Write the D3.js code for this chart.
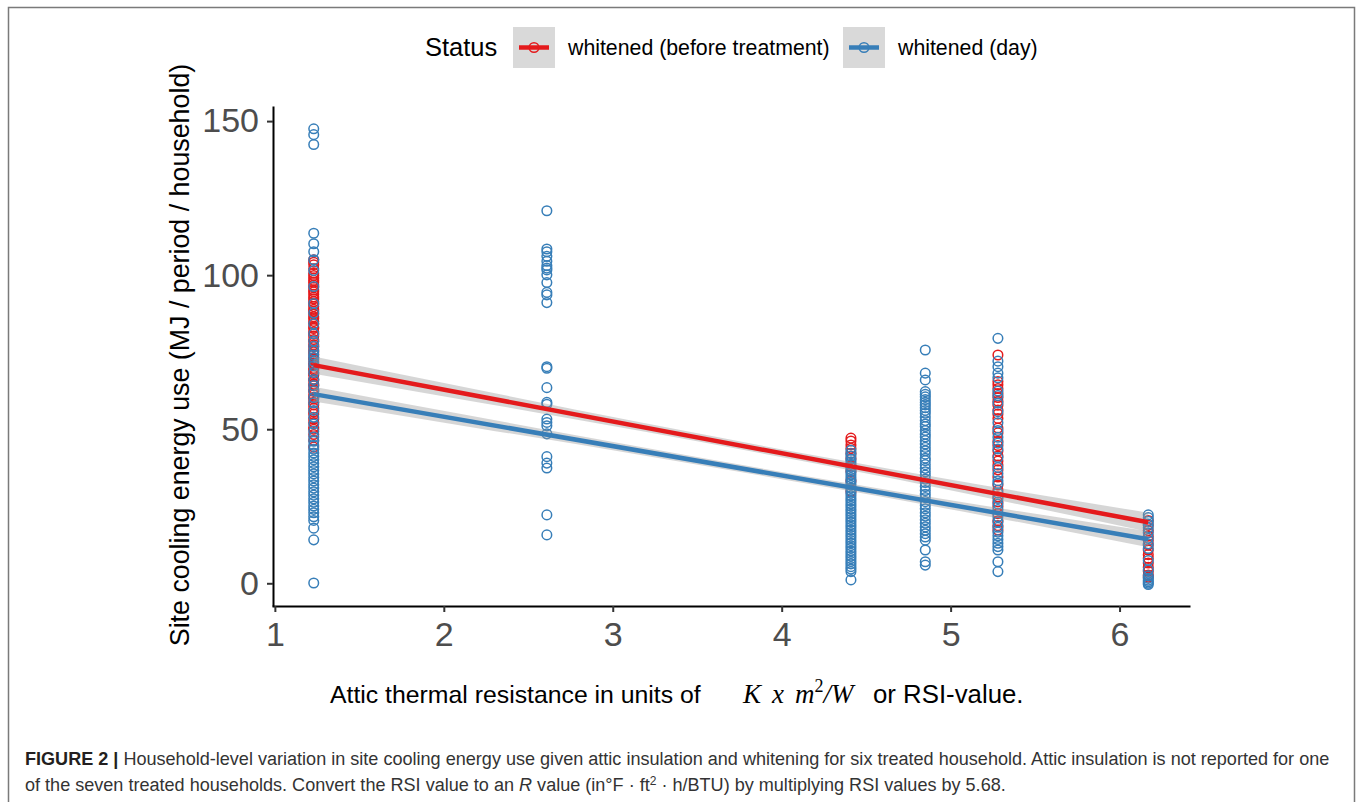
<!DOCTYPE html>
<html>
<head>
<meta charset="utf-8">
<script src="https://cdn.jsdelivr.net/npm/d3@7"></script>
<style>
  body { margin: 0; background: #fff; }
  text { font-family: "Liberation Sans", Arial, sans-serif; }
</style>
</head>
<body>
<script>
// chart size
var width  = 1357;
var height = 802;

// attic RSI values of the six households
var rsi = [1.23, 2.61, 4.41, 4.85, 5.28, 6.17];

// cooling energy use, status "whitened (before treatment)"
var before_123 = [105, 104.2, 103.4, 102.1, 100.6, 99.9, 99.1, 98.3, 97.7, 96.8, 96.1, 95.2, 94.6, 93.8, 92.9, 92.3, 91.4, 90.6, 89.8, 88.9, 88.3, 87.4, 86.5, 85.9, 85, 84.2, 83.1, 82.7, 81.6, 80.9, 80.2, 79.1, 78.5, 77.4, 76.8, 75.7, 75.1, 74.3, 73.2, 72.6, 71.4, 70.9, 69.7, 69.2, 68.1, 67.5, 66.2, 65.8, 64.6, 64.1, 62.9, 62.3, 61.2, 60.4, 59.8, 58.7, 57.9, 56.8, 55.6, 54.9, 53.3, 52.2, 50.6, 50, 48.3, 46.4, 44.2];
var before_441 = [47.1, 46.2, 44.9, 43.8, 42.2, 40.5, 38.1, 36.4, 33.2, 29.8];
var before_528 = [74.1, 65.5, 64.4, 63.2, 61.6, 60.3, 59.1, 57.8, 56.2, 54.9, 53.5, 50.4, 48.8, 46.1, 44.7, 42.9, 41.3, 39.7, 38.4, 36.8, 34.5, 31.9, 30.2, 28.1, 26.4, 24.9, 22.6, 20.3, 18.7, 17.3];
var before_617 = [20.4, 18.8, 17.1, 15.3, 13.9, 12.4, 10.8, 9.3, 8.1, 6.6, 5.2, 3.9, 2.7, 2];

// cooling energy use, status "whitened (day)"
var day_123 = [147.5, 145.6, 142.4, 113.6, 110.2, 107.6, 105, 101.5, 96.3, 90.8, 87.7, 84.2, 81, 78.6, 76.9, 75.4, 74.1, 73.3, 72, 70.6, 68.4, 66.1, 64.2, 62.5, 60.3, 58.6, 56.1, 53.9, 51.7, 49.3, 47.5, 46.1, 44.8, 43.5, 42.3, 41.2, 40.1, 38.9, 37.8, 36.6, 35.5, 34.3, 33.2, 32, 30.9, 29.7, 28.6, 27.4, 26.3, 25.1, 24, 22.9, 21.6, 20.4, 17.9, 14.1, 0.1];
var day_261 = [120.9, 108.5, 107.6, 106.1, 104.5, 103.1, 102.3, 101.7, 100.1, 97.6, 94.4, 93.6, 91.1, 70.3, 69.8, 63.5, 58.7, 58.1, 53.3, 52.2, 51.1, 48.5, 41.1, 39, 37.4, 22.2, 15.7];
var day_441 = [43.2, 42.1, 41.3, 40.2, 39.4, 38.6, 37.7, 36.9, 36, 35.2, 34.3, 33.5, 32.6, 31.8, 30.9, 30.1, 29.2, 28.4, 27.5, 26.7, 25.8, 25, 24.1, 23.3, 22.4, 21.6, 20.7, 19.9, 19, 18.2, 17.3, 16.5, 15.6, 14.8, 13.9, 13.1, 12.2, 11.4, 10.5, 9.7, 8.8, 8, 7.1, 6.3, 5.4, 4.6, 3.8, 1.1];
var day_485 = [75.7, 68.2, 66, 62.2, 61.3, 60.5, 59.6, 58.7, 57.9, 57, 56.1, 55.2, 54, 52.8, 51.7, 50.9, 49.6, 48.4, 47.5, 46.3, 45.2, 44.1, 43, 41.9, 40.6, 39.8, 38.5, 37.3, 36.2, 35.1, 33.8, 32.7, 31.4, 30.1, 28.9, 27.8, 26.5, 25.3, 24.2, 22.9, 21.8, 20.6, 19.5, 18.3, 17.2, 16.1, 15, 14, 10.8, 7, 5.9];
var day_528 = [79.5, 72.1, 70.3, 68.2, 66.7, 62.4, 60.9, 58.5, 55.7, 52.1, 49.6, 47.4, 45.5, 43.6, 40.8, 37.6, 35.6, 33.3, 32.4, 29.3, 27.5, 25.7, 23.9, 21.6, 19.9, 18.2, 16.6, 15.4, 14.2, 13, 11.9, 10.8, 7, 3.8];
var day_617 = [22.2, 21.3, 20.1, 19.2, 18, 16.4, 14.6, 12.8, 11.3, 7.4, 4.4, 2.4, 1.6, 1, 0.5, 0, -0.4];

// linear fits (read at the ends) and half width of the grey confidence band
var fitX      = [1.23, 6.17];
var fitBefore = [70.8, 19.8];
var fitDay    = [61.4, 14.3];
var bandX          = [1.23, 2.2, 3.2, 4.2, 5.2, 6.17];
var bandHalfBefore = [2.8, 2.0, 1.4, 1.3, 1.9, 3.1];
var bandHalfDay    = [2.4, 1.8, 1.3, 1.2, 1.6, 2.6];

// tick labels
var xTicks = [1, 2, 3, 4, 5, 6];
var yTicks = [0, 50, 100, 150];

var statusNames  = ["whitened (before treatment)", "whitened (day)"];
var statusColors = ["#E41A1C", "#377EB8"];

var svg = d3.select("body").append("svg")
  .attr("width", width)
  .attr("height", height);

// frame round the figure
svg.append("path")
  .attr("d", "M8.5,820V7.5H1354.5V820")
  .attr("fill", "none")
  .attr("stroke", "#7a7a7a")
  .attr("stroke-width", 1.5);

var x = d3.scaleLinear().domain([0.983, 6.417]).range([272, 1190]);
var y = d3.scaleLinear().domain([-7.37, 154.9]).range([606, 106]);

// build points: before first, day on top
var points = [];
function addPoints(xv, vals, s) {
  vals.forEach(function(v) { points.push({x: xv, y: v, s: s}); });
}
addPoints(rsi[0], before_123, 0);
addPoints(rsi[2], before_441, 0);
addPoints(rsi[4], before_528, 0);
addPoints(rsi[5], before_617, 0);
addPoints(rsi[0], day_123, 1);
addPoints(rsi[1], day_261, 1);
addPoints(rsi[2], day_441, 1);
addPoints(rsi[3], day_485, 1);
addPoints(rsi[4], day_528, 1);
addPoints(rsi[5], day_617, 1);

svg.append("g").selectAll("circle")
  .data(points)
  .enter().append("circle")
  .attr("cx", d => x(d.x))
  .attr("cy", d => y(d.y))
  .attr("r", 4.8)
  .attr("fill", "none")
  .attr("stroke", d => statusColors[d.s])
  .attr("stroke-width", 1.5);

// smooth: ribbon + line for each status
var fits = [fitBefore, fitDay];
var halves = [bandHalfBefore, bandHalfDay];
fits.forEach(function(fit, k) {
  var slope = (fit[1] - fit[0]) / (fitX[1] - fitX[0]);
  var bandData = bandX.map(function(bx, i) {
    var m = fit[0] + slope * (bx - fitX[0]);
    return {x: bx, lo: m - halves[k][i], hi: m + halves[k][i]};
  });
  svg.append("path")
    .datum(bandData)
    .attr("fill", "#999999")
    .attr("fill-opacity", 0.4)
    .attr("d", d3.area().curve(d3.curveMonotoneX)
      .x(d => x(d.x)).y0(d => y(d.lo)).y1(d => y(d.hi)));
  svg.append("path")
    .datum(fitX.map((fx, i) => [fx, fit[i]]))
    .attr("fill", "none")
    .attr("stroke", statusColors[k])
    .attr("stroke-width", 4.5)
    .attr("d", d3.line().x(d => x(d[0])).y(d => y(d[1])));
});

// axes
var yAxis = svg.append("g")
  .attr("transform", "translate(273,0)")
  .call(d3.axisLeft(y).tickValues(yTicks).tickSize(6).tickSizeOuter(0).tickPadding(8));
var xAxis = svg.append("g")
  .attr("transform", "translate(0,606)")
  .call(d3.axisBottom(x).tickValues(xTicks).tickFormat(d3.format("d")).tickSize(6).tickSizeOuter(0).tickPadding(10));
[yAxis, xAxis].forEach(function(ax) {
  ax.select(".domain").attr("stroke", "#000").attr("stroke-width", 2);
  ax.selectAll(".tick line").attr("stroke", "#333").attr("stroke-width", 2);
  ax.selectAll(".tick text")
    .attr("fill", "#4d4d4d")
    .style("font-family", "'Liberation Sans', Arial, sans-serif")
    .style("font-size", "34px");
});

// y title
svg.append("text")
  .attr("transform", "translate(189,355) rotate(-90)")
  .attr("text-anchor", "middle")
  .style("font-size", "26.8px")
  .attr("fill", "#000")
  .text("Site cooling energy use (MJ / period / household)");

// x title
var xt = svg.append("g");
xt.append("text").attr("x", 330).attr("y", 703).style("font-size", "24.8px")
  .text("Attic thermal resistance in units of");
var mathT = xt.append("text").attr("x", 743).attr("y", 703)
  .style("font-family", "'Liberation Serif', 'DejaVu Serif', serif")
  .style("font-style", "italic").style("font-size", "27px");
mathT.append("tspan").text("K");
mathT.append("tspan").attr("dx", 11).text("x");
mathT.append("tspan").attr("dx", 11).text("m");
mathT.append("tspan").attr("dy", -11).style("font-size", "18px").style("font-style", "normal").text("2");
mathT.append("tspan").attr("dy", 11).text("/W");
xt.append("text").attr("x", 873).attr("y", 703).style("font-size", "25.8px")
  .text("or RSI-value.");

// legend
var leg = svg.append("g");
leg.append("text").attr("x", 425).attr("y", 56).style("font-size", "25.5px").text("Status");
var keyX = [513, 843];
var labX = [568, 898];
statusNames.forEach(function(name, i) {
  leg.append("rect").attr("x", keyX[i]).attr("y", 27).attr("width", 42).attr("height", 41).attr("fill", "#d9d9d9");
  leg.append("line").attr("x1", keyX[i] + 6).attr("x2", keyX[i] + 36).attr("y1", 47.5).attr("y2", 47.5)
    .attr("stroke", statusColors[i]).attr("stroke-width", 4.5);
  leg.append("circle").attr("cx", keyX[i] + 21).attr("cy", 47.5).attr("r", 4.8)
    .attr("fill", "none").attr("stroke", statusColors[i]).attr("stroke-width", 1.5);
  leg.append("text").attr("x", labX[i]).attr("y", 55).style("font-size", "21.3px").text(name);
});

// caption
var cap = svg.append("g").style("font-size", "17px").attr("fill", "#333");
var c1 = cap.append("text").attr("x", 25).attr("y", 765);
c1.append("tspan").style("font-weight", "bold").attr("fill", "#231f20").text("FIGURE 2 |");
c1.append("tspan").text(" Household-level variation in site cooling energy use given attic insulation and whitening for six treated household. Attic insulation is not reported for one");
var c2 = cap.append("text").attr("x", 25).attr("y", 791);
c2.append("tspan").text("of the seven treated households. Convert the RSI value to an ");
c2.append("tspan").style("font-style", "italic").text("R");
c2.append("tspan").text(" value (in°F · ft");
c2.append("tspan").attr("dy", -6).style("font-size", "12px").text("2");
c2.append("tspan").attr("dy", 6).text(" · h/BTU) by multiplying RSI values by 5.68.");
var len = c1.node().getComputedTextLength();
cap.style("font-size", (17 * 1305 / len) + "px");
</script>
</body>
</html>
